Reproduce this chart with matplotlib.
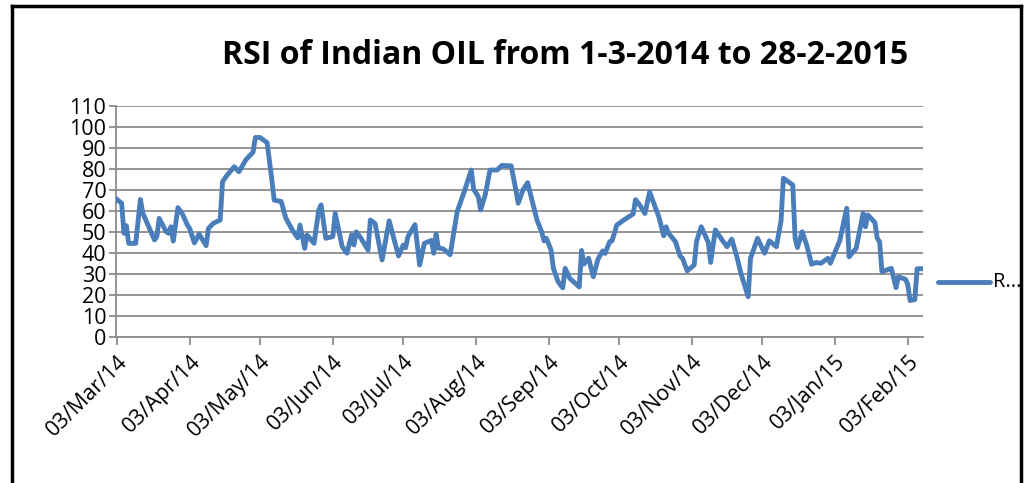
import matplotlib
matplotlib.use("Agg")
import matplotlib.pyplot as plt
import matplotlib.dates as mdates
from matplotlib.lines import Line2D
import pandas as pd

title = "RSI of Indian OIL from 1-3-2014 to 28-2-2015"
series_name = "RSI"
start_date = "2014-03-03"

day_offsets = [0, 2, 3, 4, 5, 8, 10, 11, 12, 16, 17, 18, 21, 22, 23, 24, 26, 28, 30, 31,
               33, 35, 38, 39, 41, 44, 45, 47, 50, 52, 55, 58, 59, 61, 64, 66, 67, 70, 72, 75,
               77, 78, 80, 81, 84, 86, 87, 89, 92, 93, 96, 98, 100, 101, 102, 104, 107, 108, 110, 113,
               116, 120, 122, 123, 124, 127, 129, 131, 134, 135, 136, 137, 139, 142, 145, 148, 151, 152, 154, 155,
               157, 159, 162, 164, 168, 170, 171, 173, 175, 179, 181, 182, 183, 185, 186, 188, 190, 191, 193, 197,
               198, 199, 201, 203, 205, 207, 208, 210, 211, 213, 216, 220, 221, 223, 225, 227, 229, 231, 233, 234,
               235, 238, 240, 241, 243, 246, 247, 249, 252, 253, 255, 258, 260, 262, 264, 266, 269, 270, 273, 276,
               278, 281, 283, 284, 288, 289, 290, 292, 294, 296, 298, 300, 303, 304, 308, 311, 312, 315, 318, 319,
               320, 323, 324, 325, 326, 330, 332, 333, 336, 337, 338, 340, 341, 343]

rsi = [65.5, 63.7, 49.4, 53.0, 44.6, 44.6, 65.5, 59.0, 56.5, 46.2, 47.8, 56.5, 50.1, 49.4, 52.5, 45.7, 61.6, 58.4, 53.3, 51.7,
       44.8, 49.0, 43.5, 51.7, 54.1, 55.7, 74.0, 77.1, 81.1, 78.7, 84.5, 88.0, 95.0, 95.0, 92.5, 75.0, 65.2, 64.5, 56.5, 50.5,
       47.2, 53.3, 42.2, 48.6, 44.6, 60.5, 62.9, 47.0, 47.8, 58.9, 43.0, 39.9, 48.6, 43.8, 50.1, 47.0, 41.4, 55.7, 54.0, 36.7,
       55.3, 38.6, 43.8, 42.5, 47.8, 53.5, 34.3, 44.6, 46.0, 39.9, 49.0, 42.3, 42.0, 39.2, 59.7, 69.2, 79.5, 70.4, 66.8, 60.5,
       68.0, 79.5, 79.5, 81.7, 81.5, 70.0, 63.7, 70.0, 73.5, 55.7, 50.1, 45.8, 47.0, 41.4, 32.7, 26.3, 23.4, 32.7, 27.9, 23.8,
       41.2, 34.7, 37.5, 28.7, 37.1, 41.0, 39.8, 45.4, 45.8, 53.3, 55.7, 58.6, 65.4, 62.5, 58.8, 69.0, 63.0, 57.0, 48.2, 52.5,
       49.5, 45.4, 38.5, 37.5, 31.5, 34.3, 45.5, 52.5, 45.0, 35.5, 51.0, 46.0, 43.0, 46.6, 39.0, 30.0, 19.2, 37.5, 47.0, 39.9,
       45.8, 43.0, 55.3, 75.6, 72.4, 47.0, 42.6, 50.1, 43.5, 34.7, 35.5, 35.1, 37.5, 35.1, 45.8, 61.3, 38.2, 42.2, 59.0, 52.5,
       58.1, 54.5, 47.0, 45.4, 31.1, 32.7, 23.5, 28.7, 27.5, 25.0, 17.4, 17.8, 32.5, 32.5]

tick_dates = ["2014-03-03", "2014-04-03", "2014-05-03", "2014-06-03", "2014-07-03", "2014-08-03",
              "2014-09-03", "2014-10-03", "2014-11-03", "2014-12-03", "2015-01-03", "2015-02-03"]
y_ticks = list(range(0, 111, 10))

dates = pd.Timestamp(start_date) + pd.to_timedelta(day_offsets, unit="D")

plt.rcParams['font.family'] = ['Open Sans', 'DejaVu Sans']

fig = plt.figure(figsize=(10.27, 4.83), dpi=100)
ax = fig.add_axes([116/1027, 1 - 337/483, (923-116)/1027, (337-106)/483])

ax.plot(dates, rsi, color="#4A7EBB", lw=3.5, solid_joinstyle="round", label=series_name, zorder=3)

ax.set_ylim(0, 110)
ax.set_yticks(y_ticks)
ax.set_xlim(pd.Timestamp(start_date) - pd.Timedelta(days=0.4), pd.Timestamp(start_date) + pd.Timedelta(days=343.5))
ax.set_xticks(pd.to_datetime(tick_dates))
ax.xaxis.set_major_formatter(mdates.DateFormatter("%d/%b/%y"))
ax.grid(axis="y", color="#8C8C8C", lw=1.3)
ax.set_axisbelow(True)
for s in ["top", "right"]:
    ax.spines[s].set_visible(False)
for s in ["left", "bottom"]:
    ax.spines[s].set_color("#8C8C8C")
    ax.spines[s].set_linewidth(1.3)
ax.tick_params(axis="y", length=5, width=1.3, color="#8C8C8C", labelsize=15.5, pad=2)
ax.tick_params(axis="x", length=6, width=1.3, color="#8C8C8C", labelsize=15.5, pad=4)
for lab in ax.get_xticklabels():
    lab.set_rotation(45)
    lab.set_ha("right")
    lab.set_rotation_mode("anchor")

fig.text(565/1027, 1 - 55/483, title, ha="center", va="center", fontsize=23, fontweight="bold")

leg_line = Line2D([938/1027, 990/1027], [1 - 282/483, 1 - 282/483], transform=fig.transFigure,
                  color="#4A7EBB", lw=3.5, solid_capstyle="round")
fig.add_artist(leg_line)
fig.text(993/1027, 1 - 282/483, "R...", ha="left", va="center", fontsize=14.5)

for xs, ys in [([12, 12], [483, 6]), ([12, 1021], [6, 6]), ([1021, 1021], [6, 483])]:
    fig.add_artist(Line2D([x/1027 for x in xs], [1 - y/483 for y in ys], transform=fig.transFigure,
                          color="black", lw=2.5))

fig.savefig("out.png", dpi=100)
